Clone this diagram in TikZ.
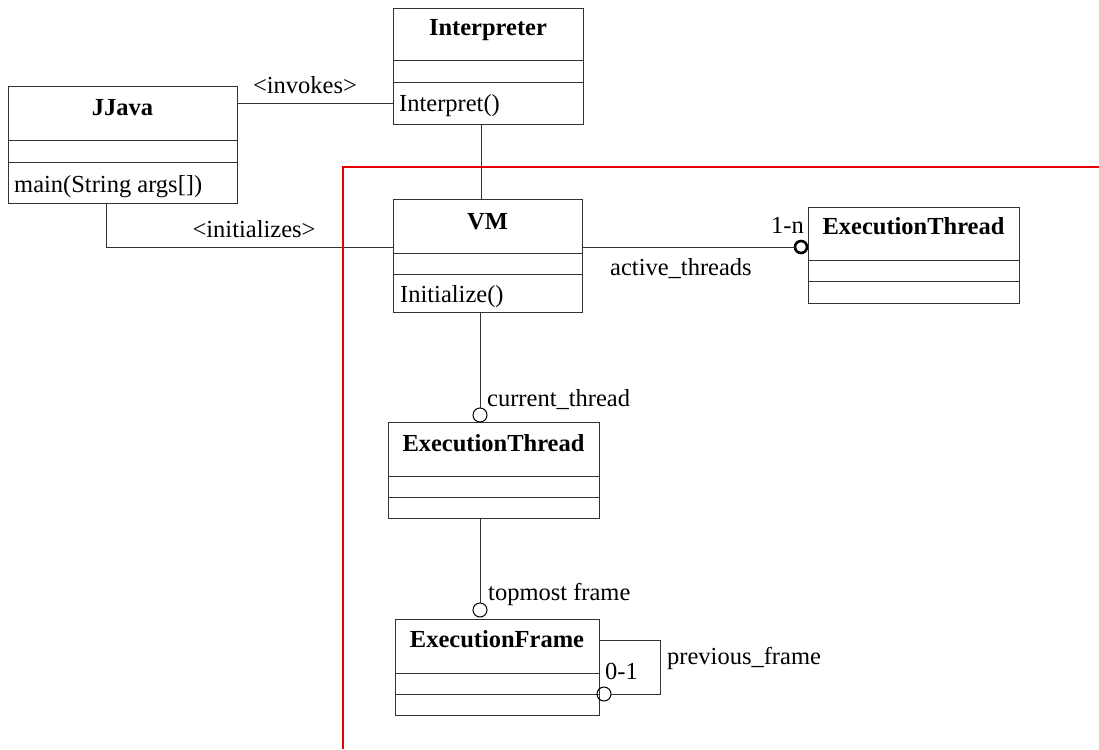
\documentclass[tikz,border=0pt]{standalone}
\usepackage{fontspec}
\setmainfont{Liberation Serif}
\definecolor{linec}{gray}{0.2}
\definecolor{redline}{RGB}{230,0,0}
\newcommand\compart[2]{\draw[conn] ([yshift=-#2pt]#1.north west) -- ([yshift=-#2pt]#1.north east);}
\tikzset{
  cls/.style={draw=linec, line width=1pt, inner sep=0pt, outer sep=0pt, rectangle},
  conn/.style={draw=linec, line width=1pt},
  ttl/.style={font=\fontsize{24.5}{29}\selectfont\bfseries, inner sep=0pt, anchor=base},
  txt/.style={font=\fontsize{24.5}{29}\selectfont, inner sep=0pt, anchor=base west},
  lbl/.style={font=\fontsize{24.5}{29}\selectfont, inner sep=0pt, anchor=base},
  role/.style={circle, draw=black, line width=1pt, minimum size=14pt, inner sep=0pt, outer sep=0pt, fill=white},
  rolethick/.style={circle, draw=black, line width=2.6pt, minimum size=12pt, inner sep=0pt, outer sep=0pt, fill=white},
}
\begin{document}
\begin{tikzpicture}[x=1pt, y=-1pt]
\useasboundingbox (0,0) rectangle (1099,749);

% class boxes
\node[cls, minimum width=190pt, minimum height=115pt] (interp) at (488,66.5) {};
\node[cls, minimum width=229pt, minimum height=116pt] (jjava) at (122.5,145) {};
\node[cls, minimum width=189pt, minimum height=113pt] (vm) at (487.5,255.5) {};
\node[cls, minimum width=211pt, minimum height=96pt] (etr) at (913.5,255) {};
\node[cls, minimum width=211pt, minimum height=96pt] (etm) at (493.5,470) {};
\node[cls, minimum width=204pt, minimum height=96pt] (ef) at (497,667) {};

\compart{interp}{52}\compart{interp}{74}
\compart{jjava}{53}\compart{jjava}{75}
\compart{vm}{54}\compart{vm}{75}
\compart{etr}{53}\compart{etr}{74}
\compart{etm}{54}\compart{etm}{75}
\compart{ef}{54}\compart{ef}{75}

% titles
\node[ttl] (interpT) at ([yshift=-27pt]interp.north) {Interpreter};
\node[ttl] (jjavaT) at ([yshift=-29pt]jjava.north) {JJava};
\node[ttl] (vmT) at ([yshift=-30pt]vm.north) {VM};
\node[ttl] (etrT) at ([yshift=-27pt]etr.north) {ExecutionThread};
\node[ttl] (etmT) at ([yshift=-29pt]etm.north) {ExecutionThread};
\node[ttl] (efT) at ([yshift=-28pt]ef.north) {ExecutionFrame};

% methods
\node[txt] (interpM) at ([xshift=6pt,yshift=12pt]interp.south west) {Interpret()};
\node[txt] (jjavaM) at ([xshift=6pt,yshift=10.5pt]jjava.south west) {main(String args[])};
\node[txt] (vmM) at ([xshift=7pt,yshift=10pt]vm.south west) {Initialize()};

% JJava -> Interpreter
\draw[conn] ([yshift=-17pt]jjava.north east) -- ([yshift=-17pt]jjava.north east -| interp.west);
\node[lbl] (invokesL) at (305,94) {<invokes>};

% JJava -> VM
\draw[conn] ([xshift=-16.5pt]jjava.south) |- ([yshift=-48pt]vm.north west);
\node[lbl] (initL) at (254,237) {<initializes>};

% red boundary
\draw[redline, line width=1.6pt] (1099,167) -- (343,167) -- (343,749);

% Interpreter -> VM
\draw[conn] ([xshift=-7pt]interp.south) -- ([xshift=-7pt]interp.south |- vm.north);

% VM -> ExecutionThread (right)
\node[rolethick] (c1) at ([xshift=-7pt,yshift=-40pt]etr.north west) {};
\draw[conn] ([yshift=-48pt]vm.north east) -- (c1.west);
\node[txt] (oneN) at (771,233) {1-n};
\node[txt] (activeL) at (610,275) {active\_threads};

% VM -> ExecutionThread (middle)
\node[role] (c2) at ([xshift=-13.5pt,yshift=7pt]etm.north) {};
\draw[conn] (c2.north |- vm.south) -- (c2.north);
\node[txt] (currentL) at (487,406) {current\_thread};

% ExecutionThread -> ExecutionFrame
\node[role] (c3) at ([xshift=-17pt,yshift=9pt]ef.north) {};
\draw[conn] (c3.north |- etm.south) -- (c3.north);
\node[txt] (topL) at (488,600) {topmost frame};

% ExecutionFrame self loop
\node[role, fill=none] (c4) at ([xshift=5pt,yshift=21pt]ef.south east) {};
\draw[conn] ([yshift=-21pt]ef.north east) -- ++(61,0) |- (c4.east);
\node[txt] (zeroOne) at (605,679) {0-1};
\node[txt] (prevL) at (667,664) {previous\_frame};
\end{tikzpicture}
\end{document}
